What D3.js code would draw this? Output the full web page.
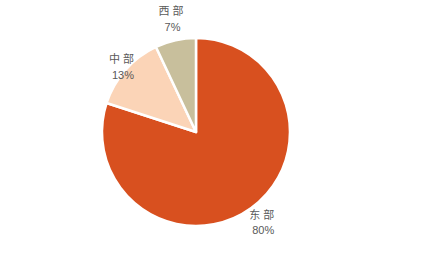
<!DOCTYPE html>
<html>
<head>
<meta charset="utf-8">
<script src="https://cdn.jsdelivr.net/npm/d3@7"></script>
<style>
  body { margin: 0; background: #fff; }
</style>
</head>
<body>
<div class="chart"></div>
<script>
// regions and their share (%)
var regions = ["东部", "中部", "西部"];
var shares = [80, 13, 7];
var colors = ["#D8501F", "#FBD4B7", "#C8BF9C"];

var width = 421, height = 260;
var cx = 196, cy = 132, radius = 94;

var svg = d3.select('.chart').append('svg')
  .attr('width', width)
  .attr('height', height);

var data = regions.map(function(r, i) {
  return { name: r, value: shares[i], color: colors[i] };
});

var pie = d3.pie()
  .sort(null)
  .value(function(d) { return d.value; });

var arc = d3.arc().innerRadius(0).outerRadius(radius);

// labels sit a bit further out on narrow slices (like excel does)
var labelR = function(d) {
  var a = d.endAngle - d.startAngle;
  if (a > Math.PI) return 111;
  if (a > 0.6) return 100;
  return 117;
};

var g = svg.append('g').attr('transform', 'translate(' + cx + ',' + cy + ')');

var arcs = pie(data);

g.selectAll('path')
  .data(arcs)
  .enter().append('path')
  .attr('d', arc)
  .attr('fill', function(d) { return d.data.color; })
  .attr('stroke', '#fff')
  .attr('stroke-width', 2.5)
  .attr('stroke-linejoin', 'round');

var labels = g.selectAll('text.lbl')
  .data(arcs)
  .enter().append('text')
  .attr('class', 'lbl')
  .attr('text-anchor', 'middle')
  .attr('font-size', 11)
  .attr('fill', '#595959')
  .attr('transform', function(d) {
    var r = labelR(d);
    var c = d3.arc().innerRadius(r).outerRadius(r).centroid(d);
    return 'translate(' + (c[0] + 2) + ',' + c[1] + ')';
  });

labels.append('tspan')
  .attr('x', 0)
  .attr('dy', '-0.3em')
  .style('font-family', '"Noto Sans CJK SC", sans-serif')
  .style('letter-spacing', '3px')
  .text(function(d) { return d.data.name; });

labels.append('tspan')
  .attr('x', 0)
  .attr('dy', 16)
  .style('font-family', '"Liberation Sans", Arial, sans-serif')
  .text(function(d) { return d.data.value + '%'; });
</script>
</body>
</html>
